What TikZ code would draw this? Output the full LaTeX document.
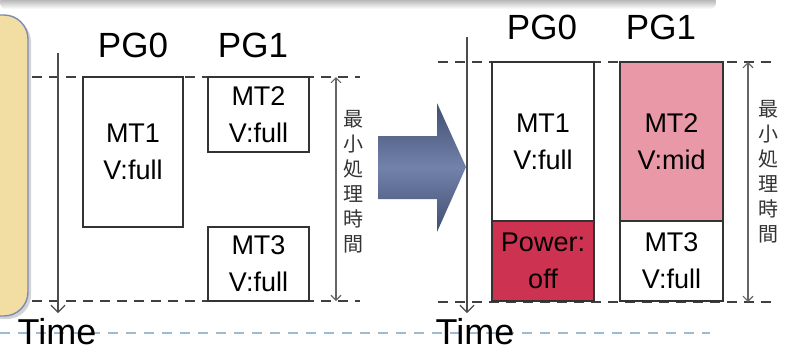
\documentclass[tikz,border=0pt]{standalone}
\usepackage{fontspec}
\setmainfont{Liberation Sans}
\newfontfamily\jpfont{Noto Sans CJK JP}
\usetikzlibrary{arrows.meta,shadows}
\definecolor{midpink}{RGB}{232,152,166}
\definecolor{offred}{RGB}{205,50,80}
\definecolor{memo}{RGB}{242,221,162}
\definecolor{memoedge}{RGB}{125,138,180}
\definecolor{timeline}{RGB}{160,186,210}
\definecolor{arrowlight}{RGB}{114,130,170}
\definecolor{arrowdark}{RGB}{66,78,114}

\begin{document}
\begin{tikzpicture}[x=1bp,y=-1bp,
  task/.style={draw=black!80,line width=1.2pt,align=center,inner sep=0pt,
    font=\fontsize{27bp}{37bp}\selectfont},
  pglabel/.style={font=\fontsize{35bp}{40bp}\selectfont},
  timelabel/.style={inner sep=0pt,font=\fontsize{36bp}{40bp}\selectfont},
  bound/.style={draw=black!75,line width=1.2pt,dash pattern=on 10bp off 7bp},
  axis/.style={draw=black!70,line width=1.2pt,-{Straight Barb[length=7bp,width=14bp]}},
  span/.style={draw=black!60,line width=1.1pt,{Straight Barb[length=5bp,width=10bp]}-{Straight Barb[length=5bp,width=10bp]}},
  jp/.style={align=center,inner sep=0pt,font=\jpfont\fontsize{20bp}{25bp}\selectfont,text=black!80}]
  \useasboundingbox (0,0) rectangle (787,352);

  % slide frame pieces
  \shade[top color=black!40,bottom color=white,rounded corners=6bp] (0,-4) rectangle (716,9);
  \fill[memo,draw=memoedge,line width=1.4pt,rounded corners=24bp,
    drop shadow={shadow xshift=3bp,shadow yshift=-3bp,opacity=0.35}] (-40,15) rectangle (28,316);
  \draw[timeline,line width=1.6pt,dash pattern=on 10bp off 8bp] (0,333) -- (710,333);

  % ---- before ----
  \coordinate (lt0) at (32,77);  \coordinate (lt1) at (360,77);
  \coordinate (lb0) at (32,301); \coordinate (lb1) at (360,301);
  \draw[bound] (lt0) -- (lt1);
  \draw[bound] (lb0) -- (lb1);
  \coordinate (laxtop) at (58,53); \coordinate (laxbot) at (58,313);
  \draw[axis] (laxtop) -- (laxbot);
  \node[timelabel] (ltime) at (57,332) {Time};
  \node[pglabel] (lpg0) at (133,45) {PG0};
  \node[pglabel] (lpg1) at (253,45) {PG1};
  \node[task,minimum width=100bp,minimum height=150bp] (lmt1) at (133,152) {MT1\\V:full};
  \node[task,minimum width=101bp,minimum height=75bp] (lmt2) at (258.5,114.5) {MT2\\V:full};
  \node[task,minimum width=101bp,minimum height=74bp] (lmt3) at (258.5,264) {MT3\\V:full};
  \coordinate (lspt) at (336,77); \coordinate (lspb) at (336,301);
  \draw[span] (lspt) -- (lspb);
  \node[jp] (lspan) at (353,182) {最\\小\\処\\理\\時\\間};

  % big arrow
  \shade[top color=arrowdark,bottom color=arrowdark,middle color=arrowlight]
    (378,136) -- (437,136) -- (437,103) -- (466,167) -- (437,232) -- (437,199) -- (378,199) -- cycle;

  % ---- after ----
  \coordinate (rt0) at (438,62);  \coordinate (rt1) at (776,62);
  \coordinate (rb0) at (438,302); \coordinate (rb1) at (776,302);
  \draw[bound] (rt0) -- (rt1);
  \draw[bound] (rb0) -- (rb1);
  \coordinate (raxtop) at (467,37); \coordinate (raxbot) at (467,313);
  \draw[axis] (raxtop) -- (raxbot);
  \node[timelabel] (rtime) at (475,332) {Time};
  \node[pglabel] (rpg0) at (542,27) {PG0};
  \node[pglabel] (rpg1) at (661,27) {PG1};
  \node[task,fill=white,minimum width=102bp,minimum height=159bp] (rmt1) at (543,141.5) {MT1\\V:full};
  \node[task,fill=offred,minimum width=102bp,minimum height=80bp] (roff) at (543,261) {Power:\\off};
  \node[task,fill=midpink,minimum width=103bp,minimum height=159bp] (rmt2) at (671.5,141.5) {MT2\\V:mid};
  \node[task,fill=white,minimum width=103bp,minimum height=80bp] (rmt3) at (671.5,261) {MT3\\V:full};
  \coordinate (rspt) at (748,62); \coordinate (rspb) at (748,302);
  \draw[span] (rspt) -- (rspb);
  \node[jp] (rspan) at (768,172) {最\\小\\処\\理\\時\\間};
\end{tikzpicture}
\end{document}
